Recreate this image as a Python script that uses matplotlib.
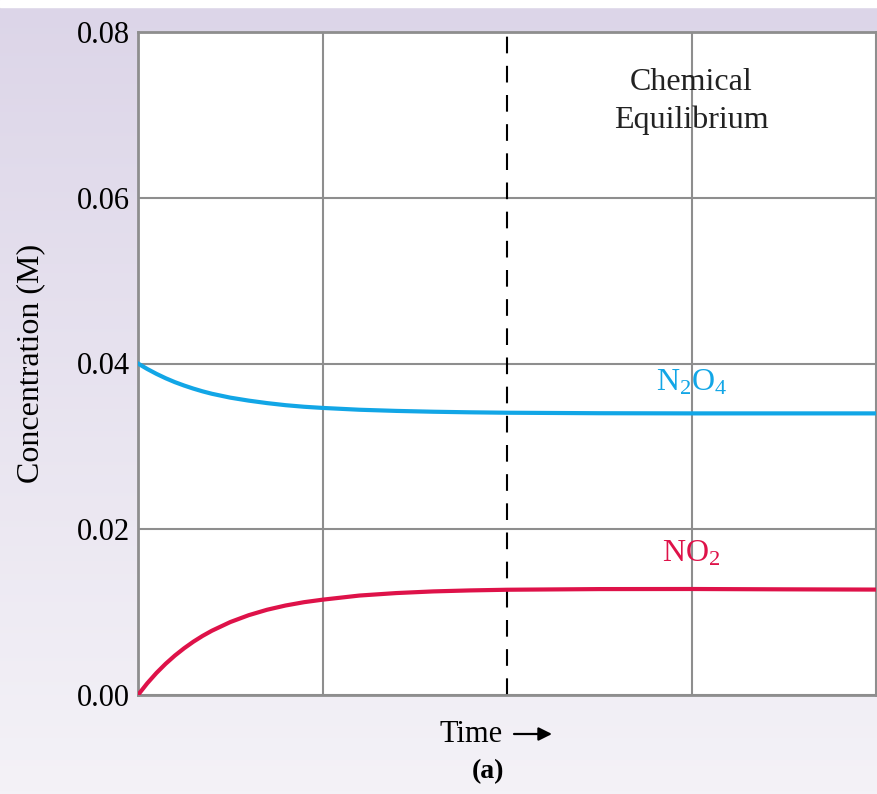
import numpy as np
import matplotlib.pyplot as plt

# values
time = [0, 0.05, 0.1, 0.15, 0.2, 0.25, 0.3, 0.35, 0.4, 0.5, 0.6, 0.7, 0.8, 0.9, 1.0,
        1.2, 1.4, 1.6, 1.8, 2.0, 2.5, 3.0, 3.5, 4.0]
no2 = [0.0, 0.00141, 0.00266, 0.00377, 0.00476, 0.00564, 0.00643, 0.00713, 0.00775,
       0.00880, 0.00963, 0.01029, 0.01080, 0.01120, 0.01150,
       0.01200, 0.01230, 0.01250, 0.01262, 0.01270, 0.01278, 0.01279, 0.01275, 0.01272]
n2o4 = [0.04000, 0.03934, 0.03875, 0.03822, 0.03775, 0.03734, 0.03697, 0.03664, 0.03635,
        0.03588, 0.03552, 0.03522, 0.03497, 0.03478, 0.03464,
        0.03442, 0.03428, 0.03418, 0.03411, 0.03406, 0.03400, 0.03398, 0.03398, 0.03398]
y_ticks = [0.00, 0.02, 0.04, 0.06, 0.08]
y_labels = ['0.00', '0.02', '0.04', '0.06', '0.08']
x_grid = [0, 1, 3, 4]
equilibrium_time = 2

SERIF = ['Liberation Serif', 'DejaVu Serif']
BLUE = '#12a6e6'
RED = '#de1249'
GRID = '#8e8e8e'

plt.rcParams['font.family'] = SERIF
plt.rcParams['mathtext.fontset'] = 'custom'
plt.rcParams['mathtext.rm'] = 'Liberation Serif'
plt.rcParams['mathtext.it'] = 'Liberation Serif:italic'
plt.rcParams['mathtext.bf'] = 'Liberation Serif:bold'

fig = plt.figure(figsize=(8.77, 7.94), dpi=100)

# lavender gradient background
bg = fig.add_axes([0, 0, 1, 1], zorder=0)
top = np.array([220, 213, 232]) / 255
bottom = np.array([244, 242, 247]) / 255
f = np.linspace(0, 1, 256)[:, None]
grad = top + (bottom - top) * f
grad = np.repeat(grad[:, None, :], 2, axis=1)
bg.imshow(grad, aspect='auto', extent=[0, 1, 0, 1])
bg.axhspan(1 - 7 / 794, 1, color='white')
bg.set_xlim(0, 1)
bg.set_ylim(0, 1)
bg.axis('off')

ax = fig.add_axes([138 / 877, 1 - 695 / 794, 738 / 877, 663 / 794], zorder=1)
ax.set_facecolor('white')

for xg in x_grid:
    ax.axvline(xg, color=GRID, lw=1.5, zorder=1)
for yt in y_ticks:
    ax.axhline(yt, color=GRID, lw=1.5, zorder=1)
ax.axvline(equilibrium_time, color='black', lw=1.5, dashes=(8, 6), zorder=2)

ax.plot(time, n2o4, color=BLUE, lw=3, zorder=3)
ax.plot(time, no2, color=RED, lw=3, zorder=3)

ax.set_xlim(0, 4)
ax.set_ylim(0, 0.08)
ax.set_xticks([])
ax.set_yticks(y_ticks)
ax.set_yticklabels(y_labels, fontsize=22)
ax.tick_params(axis='y', length=0, pad=6)
for s in ax.spines.values():
    s.set_color(GRID)
    s.set_linewidth(2)

ax.set_ylabel('Concentration (M)', fontsize=23)
ax.yaxis.set_label_coords(-0.126, 0.5)

ax.text(3, 0.0716, 'Chemical\nEquilibrium', ha='center', va='center',
        fontsize=23, linespacing=1.35, color='#222222')
ax.text(3, 0.0377, r'N$_2$O$_4$', ha='center', va='center', fontsize=23, color=BLUE)
ax.text(3, 0.0170, r'NO$_2$', ha='center', va='center', fontsize=23, color=RED)

fig.text(471 / 877, 1 - 735 / 794, 'Time', ha='center', va='center', fontsize=22)
ax.annotate('', xy=(552 / 877, 1 - 734 / 794), xytext=(514 / 877, 1 - 734 / 794),
            xycoords='figure fraction', textcoords='figure fraction',
            arrowprops=dict(arrowstyle='-|>', lw=1.6, color='black', mutation_scale=20,
                            shrinkA=0, shrinkB=0))
fig.text(488 / 877, 1 - 772 / 794, '(a)', ha='center', va='center', fontsize=20,
         fontweight='bold')

fig.savefig('out.png', dpi=100)
